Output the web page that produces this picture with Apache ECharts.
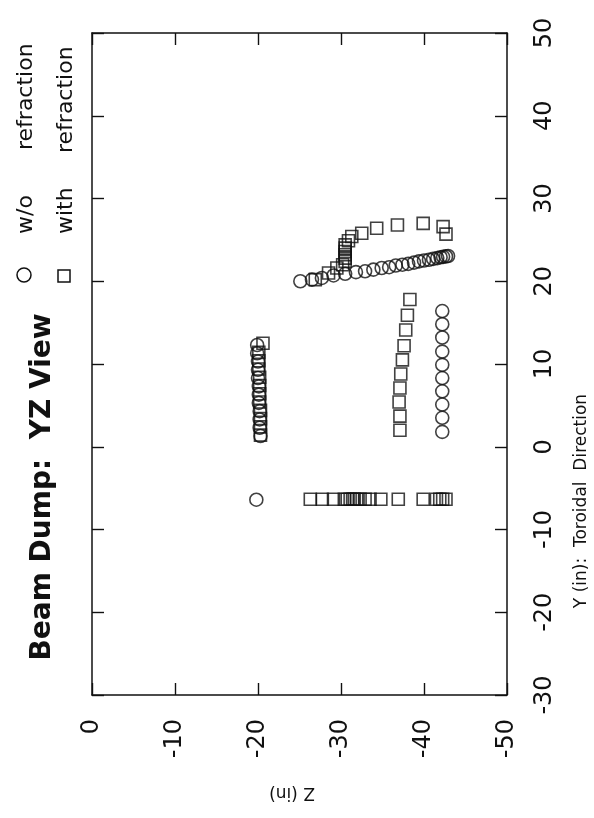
<!DOCTYPE html>
<html>
<head>
<meta charset="utf-8">
<script src="https://cdn.jsdelivr.net/npm/echarts@6/dist/echarts.min.js"></script>
<style>
html,body{margin:0;padding:0;background:#fff;}
#chart{width:594px;height:818px;}
</style>
</head>
<body>
<div id="chart"></div>
<script>
// Z (in) and Y (in) values
// "w/o refraction" (circles)
var woZ = [
  -19.9,-19.9,-20.0,-20.0,-20.0,-20.1,-20.1,-20.1,-20.2,-20.2,-20.2,-20.3,
  -19.8,
  -42.2,-42.2,-42.2,-42.2,-42.2,-42.2,-42.2,-42.2,-42.2,-42.2,
  -25.1,-26.5,-27.7,-29.1,-30.5,-31.8,-32.9,-33.9,-34.9,-35.8,-36.6,-37.4,-38.1,-38.8,-39.4,-40.0,-40.6,-41.1,-41.6,-42.0,-42.3,-42.65,-42.9
];
var woY = [
  12.3,11.3,10.3,9.3,8.3,7.3,6.3,5.3,4.3,3.3,2.3,1.3,
  -6.4,
  16.4,14.8,13.2,11.5,9.9,8.3,6.7,5.1,3.5,1.8,
  20.0,20.2,20.4,20.7,20.9,21.1,21.2,21.4,21.6,21.7,21.9,22.0,22.1,22.25,22.4,22.5,22.6,22.7,22.8,22.9,22.95,23.0,23.05
];
// "with refraction" (squares)
var withZ = [
  -20.6,-20.1,-20.1,-20.1,-20.2,-20.2,-20.2,-20.2,-20.3,-20.3,-20.3,-20.3,
  -38.3,-38.0,-37.8,-37.6,-37.4,-37.2,-37.1,-37.0,-37.1,-37.1,
  -26.9,-28.5,-29.5,-30.2,-30.5,-30.5,-30.5,-30.5,-30.5,-30.5,-30.9,-31.3,-32.5,-34.3,-36.8,-39.9,-42.3,-42.65,
  -26.3,-27.75,-29.1,-30.4,-30.75,-31.1,-31.4,-31.6,-31.9,-32.3,-32.9,-33.5,-34.8,-36.9,-39.9,-41.5,-41.9,-42.25,-42.65
];
var withY = [
  12.5,11.4,10.4,9.4,8.4,7.4,6.4,5.4,4.4,3.4,2.4,1.4,
  17.8,15.9,14.1,12.2,10.5,8.8,7.1,5.4,3.7,2.0,
  20.2,21.0,21.6,22.0,22.4,22.8,23.2,23.6,24.0,24.4,24.9,25.4,25.8,26.4,26.8,27.0,26.6,25.7,
  -6.35,-6.35,-6.35,-6.35,-6.35,-6.35,-6.35,-6.35,-6.35,-6.35,-6.35,-6.35,-6.35,-6.35,-6.35,-6.35,-6.35,-6.35,-6.35
];
var zTicks = { min: -50, max: 0, interval: 10 };
var yTicks = { min: -30, max: 50, interval: 10 };
var titleText = 'Beam Dump:  YZ View';
var zName = 'Z (in)';
var yName = 'Y (in):  Toroidal  Direction';

function zip(a, b) { return a.map(function (v, i) { return [v, b[i]]; }); }

var ink = '#111';
var lblFont = 'DejaVu Sans';
var chart = echarts.init(document.getElementById('chart'), null, { renderer: 'canvas' });

function xAx(pos, showLabel) {
  return {
    type: 'value', position: pos, inverse: true,
    min: zTicks.min, max: zTicks.max, interval: zTicks.interval,
    axisLine: { show: true, onZero: false, lineStyle: { color: ink, width: 1.5 } },
    axisTick: { show: true, inside: true, length: 12, lineStyle: { color: ink, width: 1.4 } },
    axisLabel: { show: showLabel, rotate: 90, margin: 24, fontSize: 24, fontFamily: lblFont, color: '#111' },
    splitLine: { show: false }
  };
}
function yAx(pos, showLabel) {
  return {
    type: 'value', position: pos,
    min: yTicks.min, max: yTicks.max, interval: yTicks.interval,
    axisLine: { show: true, onZero: false, lineStyle: { color: ink, width: 1.5 } },
    axisTick: { show: true, inside: true, length: 12, lineStyle: { color: ink, width: 1.4 } },
    axisLabel: { show: showLabel, rotate: 90, margin: 26, fontSize: 24, fontFamily: lblFont, color: '#111' },
    splitLine: { show: false }
  };
}

function txt(text, x, y, size, weight, rot, align) {
  return {
    type: 'text', x: x, y: y, rotation: rot,
    style: { text: text, font: weight + ' ' + size + 'px "' + lblFont + '"', fill: '#111',
             textAlign: align || 'center', textVerticalAlign: 'middle' },
    silent: true
  };
}

var option = {
  animation: false,
  backgroundColor: '#fff',
  grid: { left: 92, right: 87, top: 33, bottom: 123 },
  xAxis: [xAx('bottom', true), xAx('top', false)],
  yAxis: [yAx('right', true), yAx('left', false)],
  series: [
    {
      name: 'w/o refraction', type: 'scatter', xAxisIndex: 0, yAxisIndex: 0,
      symbol: 'circle', symbolSize: 13, silent: true,
      itemStyle: { color: 'rgba(0,0,0,0)', borderColor: ink, borderWidth: 1.6 },
      data: zip(woZ, woY)
    },
    {
      name: 'with refraction', type: 'scatter', xAxisIndex: 0, yAxisIndex: 0,
      symbol: 'rect', symbolSize: 12, silent: true,
      itemStyle: { color: 'rgba(0,0,0,0)', borderColor: ink, borderWidth: 1.6 },
      data: zip(withZ, withY)
    }
  ],
  graphic: [
    txt(titleText, 43, 487, 28, 'bold', Math.PI / 2),
    { type: 'circle', shape: { cx: 24, cy: 275, r: 7 }, style: { fill: 'none', stroke: ink, lineWidth: 1.5 }, silent: true },
    { type: 'rect', shape: { x: 58, y: 270, width: 12, height: 12 }, style: { fill: 'none', stroke: ink, lineWidth: 1.5 }, silent: true },
    txt('w/o', 26, 234, 22, 'normal', Math.PI / 2, 'left'),
    txt('refraction', 26, 150, 22, 'normal', Math.PI / 2, 'left'),
    txt('with', 66, 234, 22, 'normal', Math.PI / 2, 'left'),
    txt('refraction', 66, 153, 22, 'normal', Math.PI / 2, 'left'),
    txt(zName, 292, 792, 17, 'normal', Math.PI),
    txt(yName, 582, 501, 17, 'normal', Math.PI / 2)
  ]
};
chart.setOption(option);
</script>
</body>
</html>
